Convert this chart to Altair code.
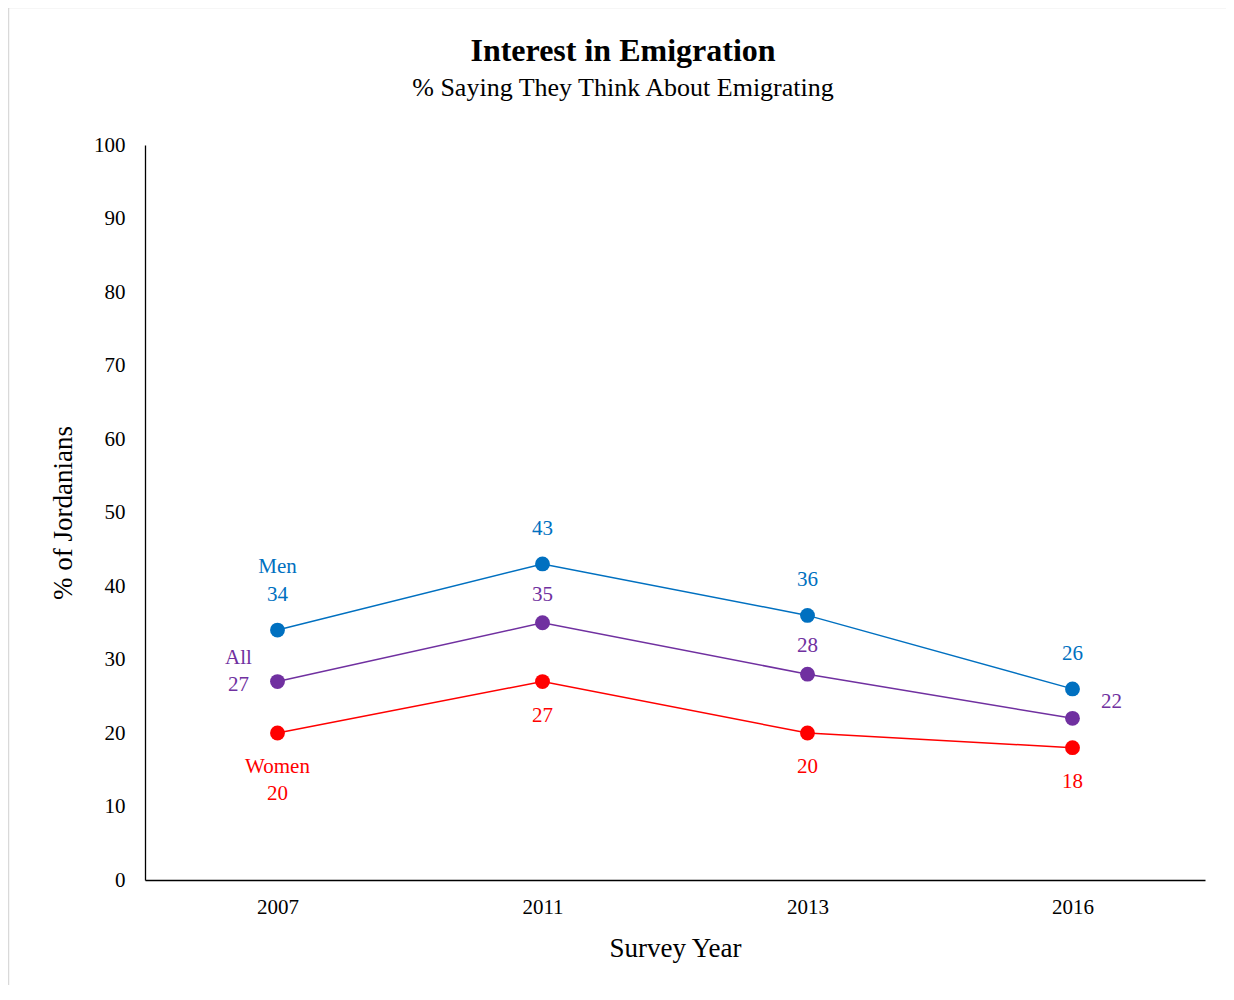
import altair as alt
import pandas as pd

years = ["2007", "2011", "2013", "2016"]
men = [34, 43, 36, 26]
all_ = [27, 35, 28, 22]
women = [20, 27, 20, 18]
series_names = ["Men", "All", "Women"]
series_colors = ["#0070C0", "#7030A0", "#FF0000"]

rows = []
for name, vals in zip(series_names, [men, all_, women]):
    for y, v in zip(years, vals):
        rows.append({"series": name, "year": y, "value": v, "label": str(v)})
df = pd.DataFrame(rows)

FONT = "Liberation Serif"
W, H = 1060, 735

xenc = alt.X("year:O", scale=alt.Scale(type="point", padding=0.5, domain=years),
             axis=alt.Axis(title="Survey Year", labelAngle=0, ticks=False, labelPadding=16,
                           labelFontSize=21, titleFontSize=27, titleFontWeight="normal",
                           titleY=68, titleBaseline="middle", domainColor="black",
                           domainWidth=1.3, labelColor="black", titleColor="black",
                           labelFont=FONT, titleFont=FONT))
yenc = alt.Y("value:Q", scale=alt.Scale(domain=[0, 100], nice=False),
             axis=alt.Axis(title="% of Jordanians", values=list(range(0, 101, 10)), ticks=False,
                           grid=False, labelPadding=20, labelFontSize=21, titleFontSize=27,
                           titleFontWeight="normal", titleX=-82, titleY=H / 2, titleAngle=-90,
                           titleBaseline="middle", titleAlign="center", domainColor="black",
                           domainWidth=1.3, labelColor="black", titleColor="black",
                           labelFont=FONT, titleFont=FONT))
color = alt.Color("series:N", scale=alt.Scale(domain=series_names, range=series_colors), legend=None)

base = alt.Chart(df)

border = alt.Chart(pd.DataFrame({"a": [0]})).mark_rect(
    fill=None, stroke="#d9d9d9", strokeWidth=1.5
).encode(x=alt.value(-136.5), x2=alt.value(1200), y=alt.value(-137.5), y2=alt.value(900))

lines = base.mark_line(strokeWidth=1.5).encode(x=xenc, y=yenc, color=color)
points = base.mark_point(filled=True, size=220, opacity=1).encode(x=xenc, y=yenc, color=color)


def lab(series, yrs, field, dx, dy, align="center"):
    return base.transform_filter(
        alt.FieldEqualPredicate(field="series", equal=series)
    ).transform_filter(
        alt.FieldOneOfPredicate(field="year", oneOf=yrs)
    ).mark_text(font=FONT, fontSize=21, dx=dx, dy=dy, align=align, baseline="middle").encode(
        x=alt.X("year:O", scale=alt.Scale(type="point", padding=0.5, domain=years)),
        y=alt.Y("value:Q", scale=alt.Scale(domain=[0, 100], nice=False)),
        text=alt.Text(field),
        color=color,
    )


layers = [
    border, lines, points,
    lab("Men", years, "label", 0, -35),
    lab("Men", ["2007"], "series", 0, -63),
    lab("Women", ["2011", "2013", "2016"], "label", 0, 34),
    lab("Women", ["2007"], "series", 0, 34),
    lab("Women", ["2007"], "label", 0, 61),
    lab("All", ["2011", "2013"], "label", 0, -28),
    lab("All", ["2007"], "series", -39, -24),
    lab("All", ["2007"], "label", -39, 3),
    lab("All", ["2016"], "label", 39, -16),
]

chart = alt.layer(*layers).properties(
    width=W, height=H,
    title=alt.TitleParams(
        text="Interest in Emigration",
        subtitle="% Saying They Think About Emigrating",
        anchor="middle", frame="group", dx=-52, offset=-95,
        font=FONT, fontSize=32, fontWeight="bold", color="black",
        subtitleFont=FONT, subtitleFontSize=26, subtitleColor="black", subtitlePadding=7,
    ),
    autosize=alt.AutoSizeParams(type="none"),
    padding={"left": 137, "top": 137, "right": 21, "bottom": 105},
).configure_view(strokeWidth=0, stroke="transparent")

chart.save("out.html", embed_options={"renderer": "svg", "actions": False})
